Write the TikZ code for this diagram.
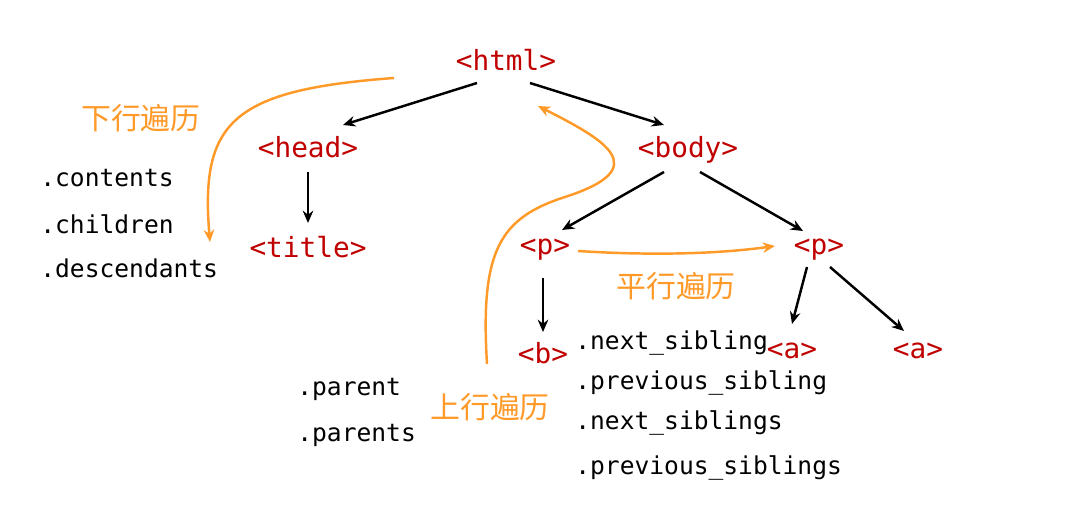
\documentclass[tikz,border=0pt]{standalone}
\usepackage{fontspec}
\setmonofont{DejaVu Sans Mono}
\newfontfamily\cjkfont{Noto Sans CJK SC}
\usepackage{tikz}
\usetikzlibrary{arrows.meta,calc}
\definecolor{tagred}{RGB}{192,0,0}
\definecolor{walkorange}{RGB}{255,153,40}

\begin{document}
\begin{tikzpicture}[x=0.02cm,y=-0.02cm,
    tag/.style={anchor=base,inner sep=0pt,text=tagred,font=\ttfamily\fontsize{15.8}{18}\selectfont},
    attr/.style={anchor=base west,inner sep=0pt,font=\ttfamily\fontsize{14}{16}\selectfont},
    walk/.style={inner sep=0pt,text=walkorange,font=\cjkfont\fontsize{17}{20}\selectfont},
    link/.style={->,line width=1.4pt},
    walkline/.style={->,walkorange,line width=1.4pt},
    >={Stealth[length=7pt,width=6pt]}]
                \useasboundingbox (0,0) rectangle (1069,516);

                \node[tag] (html) at (506, 71) {<html>};
                \node[tag] (head) at (308, 158) {<head>};
                \node[tag] (body) at (688, 158) {<body>};
                \node[tag] (title) at (308, 258) {<title>};
                \node[tag] (p1) at (545, 255) {<p>};
                \node[tag] (p2) at (819, 255) {<p>};
                \node[tag] (b) at (543, 364) {<b>};
                \node[tag] (a1) at (792, 359) {<a>};
                \node[tag] (a2) at (918, 359) {<a>};

                \node[attr] (contents) at (40, 187) {.contents};
                \node[attr] (children) at (40, 234) {.children};
                \node[attr] (descendants) at (40, 278) {.descendants};
                \node[attr] (parent) at (297, 396) {.parent};
                \node[attr] (parents) at (297, 442) {.parents};
                \node[attr] (nextsib) at (575, 350) {.next\_sibling};
                \node[attr] (prevsib) at (575, 390) {.previous\_sibling};
                \node[attr] (nextsibs) at (575, 430) {.next\_siblings};
                \node[attr] (prevsibs) at (575, 475) {.previous\_siblings};

                \node[walk] (down) at (141, 118) {下行遍历};
                \node[walk] (side) at (676, 286) {平行遍历};
                \node[walk] (up) at (490, 407) {上行遍历};

                \draw[link] ($(html.base)+(-29,12)$) -- ($(head.base)+(35,-33)$);
                \draw[link] ($(html.base)+(24,12)$) -- ($(body.base)+(-24,-33)$);
                \draw[link] ($(head.base)+(0,14)$) -- ($(title.base)+(0,-35)$);
                \draw[link] ($(body.base)+(-24,14)$) -- ($(p1.base)+(17,-25)$);
                \draw[link] ($(body.base)+(12,14)$) -- ($(p2.base)+(-16,-24)$);
                \draw[link] ($(p1.base)+(-2,23)$) -- ($(b.base)+(0,-32)$);
                \draw[link] ($(p2.base)+(-12,12)$) -- ($(a1.base)+(0,-35)$);
                \draw[link] ($(p2.base)+(11,12)$) -- ($(a2.base)+(-14,-28)$);

                % orange walks
                \coordinate (downfrom) at (394, 78);
                \coordinate (downto) at (210, 242);
                \coordinate (upfrom) at (487, 364);
                \draw[walkline] (downfrom) .. controls (232, 90) and (200, 122) .. (downto);
                \draw[walkline] (upfrom) .. controls (480, 250) and (500, 218) .. (565, 197)
                .. controls (655, 168) and (605, 140) .. ($(html.base)+(32,35)$);
                \draw[walkline] ($(p1.base)+(33,-4)$) .. controls (640, 255) and (710, 255) .. ($(p2.base)+(-44,-9)$);
            \end{tikzpicture}
\end{document}
